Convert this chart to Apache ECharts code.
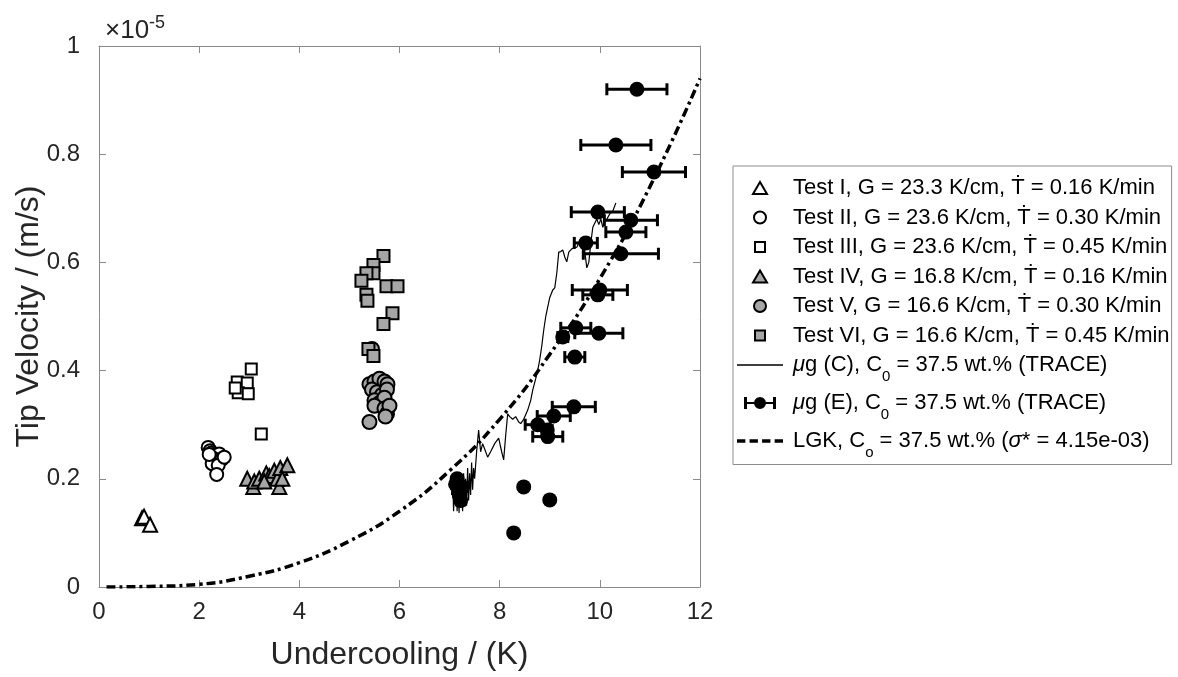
<!DOCTYPE html>
<html>
<head>
<meta charset="utf-8">
<script src="https://cdn.jsdelivr.net/npm/echarts@6/dist/echarts.min.js"></script>
<style>
  html, body { margin: 0; padding: 0; background: #fff; }
  #box { width: 1178px; height: 677px; }
</style>
</head>
<body>
<div id="box"></div>
<script>
// values are in units of 1e-5 m/s (the axis shows the x10^-5 factor)
var xTicks = [0, 2, 4, 6, 8, 10, 12];
var yTicks = [0, 0.2, 0.4, 0.6, 0.8, 1];

var test1 = [[0.86, 0.127], [0.9, 0.13], [1.02, 0.115]];
var test2 = [[2.18, 0.258], [2.22, 0.252], [2.25, 0.248], [2.3, 0.245], [2.35, 0.243], [2.4, 0.246],
    [2.28, 0.238], [2.33, 0.235], [2.45, 0.236], [2.26, 0.228], [2.38, 0.225], [2.35, 0.208],
    [2.5, 0.24], [2.2, 0.245]];
var test3 = [[3.04, 0.403], [2.76, 0.379], [2.96, 0.377], [2.78, 0.359], [2.98, 0.357], [2.72, 0.368],
    [3.24, 0.283]];
var test4 = [[2.96, 0.2], [3.08, 0.185], [3.1, 0.195], [3.2, 0.2], [3.34, 0.21], [3.4, 0.205],
    [3.5, 0.215], [3.56, 0.2], [3.6, 0.185], [3.62, 0.22], [3.76, 0.225], [3.66, 0.2], [3.3, 0.195]];
var test5 = [[5.4, 0.375], [5.5, 0.38], [5.6, 0.385], [5.7, 0.38], [5.76, 0.375], [5.45, 0.365],
    [5.55, 0.36], [5.65, 0.355], [5.75, 0.365], [5.5, 0.345], [5.6, 0.34], [5.7, 0.35], [5.5, 0.335],
    [5.7, 0.33], [5.75, 0.32], [5.8, 0.335], [5.4, 0.305], [5.72, 0.315], [5.45, 0.44]];
var test6 = [[5.68, 0.612], [5.48, 0.595], [5.48, 0.58], [5.34, 0.58], [5.24, 0.566], [5.74, 0.556],
    [5.96, 0.556], [5.34, 0.54], [5.36, 0.529], [5.86, 0.506], [5.68, 0.486], [5.38, 0.44], [5.48, 0.427]];

// μg (C) trace
var traceC = [[7.04, 0.17], [7.06, 0.2], [7.08, 0.14], [7.1, 0.19], [7.12, 0.15], [7.13, 0.21], [7.15, 0.14],
    [7.17, 0.18], [7.19, 0.137], [7.2, 0.2], [7.22, 0.15], [7.24, 0.19], [7.26, 0.14], [7.28, 0.21],
    [7.3, 0.155], [7.32, 0.2], [7.34, 0.15], [7.36, 0.22], [7.38, 0.16], [7.4, 0.21], [7.42, 0.17],
    [7.44, 0.23], [7.46, 0.18], [7.48, 0.22], [7.5, 0.2], [7.54, 0.25], [7.58, 0.29], [7.62, 0.25],
    [7.66, 0.265], [7.7, 0.255], [7.76, 0.24], [7.82, 0.25], [7.9, 0.265], [7.98, 0.275], [8.04, 0.25],
    [8.08, 0.235], [8.12, 0.28], [8.16, 0.32], [8.2, 0.315], [8.26, 0.31], [8.32, 0.315], [8.38, 0.305],
    [8.42, 0.302], [8.48, 0.31], [8.56, 0.327], [8.62, 0.345], [8.66, 0.364], [8.72, 0.385], [8.76, 0.401],
    [8.8, 0.42], [8.84, 0.445], [8.88, 0.475], [8.92, 0.5], [8.96, 0.518], [9.0, 0.535], [9.06, 0.549],
    [9.1, 0.553], [9.14, 0.58], [9.18, 0.619], [9.22, 0.62], [9.26, 0.623], [9.3, 0.61], [9.34, 0.601],
    [9.38, 0.619], [9.44, 0.625], [9.48, 0.627], [9.54, 0.628], [9.58, 0.636], [9.62, 0.63], [9.66, 0.64],
    [9.7, 0.62], [9.74, 0.59], [9.78, 0.6], [9.82, 0.636], [9.86, 0.665], [9.9, 0.673], [9.94, 0.68],
    [9.98, 0.67], [10.02, 0.68], [10.06, 0.665], [10.1, 0.675], [10.14, 0.68], [10.2, 0.69],
    [10.26, 0.695], [10.32, 0.71]];

// μg (E): [undercooling, velocity, half width of error bar]
var pointsE = [[10.74, 0.92, 0.6], [10.32, 0.817, 0.7], [11.08, 0.767, 0.63], [9.96, 0.693, 0.53],
    [10.62, 0.678, 0.53], [10.52, 0.656, 0.4], [9.72, 0.636, 0.23], [10.42, 0.616, 0.75],
    [10.0, 0.549, 0.55], [9.96, 0.54, 0.3], [9.52, 0.479, 0.3], [9.98, 0.469, 0.48], [9.26, 0.462, 0.1],
    [9.5, 0.425, 0.2], [9.48, 0.333, 0.43], [9.08, 0.316, 0.33], [8.76, 0.3, 0.25], [8.96, 0.278, 0.3],
    [8.95, 0.29, 0.1], [8.48, 0.185, 0], [9.0, 0.161, 0], [8.28, 0.1, 0],
    [7.12, 0.19, 0.08], [7.18, 0.175, 0.1], [7.22, 0.16, 0.08], [7.15, 0.2, 0.06], [7.25, 0.185, 0.1]];

// LGK model curve
var lgk = [[0.15, 0], [1, 0.001], [2, 0.005], [3, 0.02], [4, 0.045], [5, 0.085], [6, 0.14],
    [7, 0.215], [8, 0.31], [9, 0.43], [10, 0.57], [11, 0.74], [12, 0.94]];

var names = ['Test I, G = 23.3 K/cm, Ṫ = 0.16 K/min',
    'Test II, G = 23.6 K/cm, Ṫ = 0.30 K/min',
    'Test III, G = 23.6 K/cm, Ṫ = 0.45 K/min',
    'Test IV, G = 16.8 K/cm, Ṫ = 0.16 K/min',
    'Test V, G = 16.6 K/cm, Ṫ = 0.30 K/min',
    'Test VI, G = 16.6 K/cm, Ṫ = 0.45 K/min',
    'ug (C)', 'ug (E)', 'LGK'];
var richNames = {
    'ug (C)': '{it|μ}g (C), C{sub|0} = 37.5 wt.% (TRACE)',
    'ug (E)': '{it|μ}g (E), C{sub|0} = 37.5 wt.% (TRACE)',
    'LGK': 'LGK, C{sub|o} = 37.5 wt.% ({it|σ}* = 4.15e-03)'
};

var font = 'Liberation Sans, Arial, sans-serif';
var gray = '#a6a6a6';
var axisColor = '#8a8a8a';

// legend icons (the leading moves only widen the box the icon is fitted into)
var icoTri = 'path://M-1,-1M15,13M0,12L7,0L14,12Z';
var icoCirc = 'path://M-1,-1M13,13M0,6A6,6 0 1 1 12,6A6,6 0 1 1 0,6Z';
var icoRect = 'path://M-2,-2M12,12M0,0H10V10H0Z';
var icoLine = 'path://M0,0H46V1.3H0Z';
var icoDash = 'path://M0,0H8V3.5H0Z M12,0H20V3.5H12Z M24,0H32V3.5H24Z M36,0H44V3.5H36Z';
var icoErr = 'path://M0,-1M32,13M0,0H3V12H0Z M3,5H10.3V7H3Z M10,6A6,6 0 1 1 22,6A6,6 0 1 1 10,6Z M21.7,5H29V7H21.7Z M29,0H32V12H29Z';

var chart = echarts.init(document.getElementById('box'));

function scatter(name, data, symbol, fill, size) {
    return {
        name: name, type: 'scatter', data: data, symbol: symbol, symbolSize: size,
        itemStyle: { color: fill, borderColor: '#000', borderWidth: 2, opacity: 1 }
    };
}

function renderErr(params, api) {
    var x = api.value(0), y = api.value(1), e = api.value(2);
    var c = api.coord([x, y]);
    var kids = [];
    if (e > 0) {
        var l = api.coord([x - e, y]), r = api.coord([x + e, y]);
        var st = { stroke: '#000', lineWidth: 3 };
        kids.push({ type: 'line', shape: { x1: l[0], y1: c[1], x2: r[0], y2: c[1] }, style: st });
        kids.push({ type: 'line', shape: { x1: l[0], y1: c[1] - 6, x2: l[0], y2: c[1] + 6 }, style: st });
        kids.push({ type: 'line', shape: { x1: r[0], y1: c[1] - 6, x2: r[0], y2: c[1] + 6 }, style: st });
    }
    kids.push({ type: 'circle', shape: { cx: c[0], cy: c[1], r: 7.5 }, style: { fill: '#000' } });
    return { type: 'group', children: kids };
}

var option = {
    animation: false,
    backgroundColor: '#fff',
    title: {
        text: '{a|×10}{b|-5}',
        left: 100, top: 9,
        textStyle: {
            rich: {
                a: { fontFamily: font, fontSize: 26, fontWeight: 'normal', color: '#262626' },
                b: { fontFamily: font, fontSize: 18, fontWeight: 'normal', color: '#262626', padding: [0, 0, 15, 0] }
            }
        }
    },
    grid: { left: 99, right: 478, top: 46, bottom: 90, outerBoundsMode: 'none', containLabel: false },
    legend: {
        orient: 'vertical',
        left: 733, top: 166,
        padding: [11, 2, 4, 4],
        itemGap: 7.5,
        itemWidth: 46, itemHeight: 14,
        symbolKeepAspect: true,
        borderColor: '#8c8c8c', borderWidth: 1,
        backgroundColor: '#fff',
        selectedMode: false,
        data: [
            { name: names[0], icon: icoTri },
            { name: names[1], icon: icoCirc },
            { name: names[2], icon: icoRect },
            { name: names[3], icon: icoTri },
            { name: names[4], icon: icoCirc },
            { name: names[5], icon: icoRect },
            { name: names[6], icon: icoLine },
            { name: names[7], icon: icoErr },
            { name: names[8], icon: icoDash }
        ],
        formatter: function (n) { return richNames[n] || n; },
        textStyle: {
            fontFamily: font, fontSize: 22, color: '#000', padding: [0, 0, 0, 5],
            rich: {
                it: { fontFamily: font, fontSize: 22, fontStyle: 'italic', color: '#000' },
                sub: { fontFamily: font, fontSize: 15, color: '#000', padding: [24, 0, 0, 0] }
            }
        }
    },
    xAxis: [{
        type: 'value', min: 0, max: 12, interval: 2,
        name: 'Undercooling / (K)', nameLocation: 'middle', nameGap: 52,
        nameTextStyle: { fontFamily: font, fontSize: 32, color: '#262626' },
        axisLine: { onZero: false, lineStyle: { color: axisColor, width: 1 } },
        axisTick: { inside: true, length: 7, lineStyle: { color: axisColor } },
        axisLabel: { fontFamily: font, fontSize: 24, color: '#262626', margin: 13,
            formatter: function (v) { return xTicks.indexOf(v) >= 0 ? String(v) : ''; } },
        splitLine: { show: false }
    }, {
        type: 'value', min: 0, max: 12, interval: 2, position: 'top',
        axisLine: { onZero: false, lineStyle: { color: axisColor, width: 1 } },
        axisTick: { inside: true, length: 7, lineStyle: { color: axisColor } },
        axisLabel: { show: false }, splitLine: { show: false }
    }],
    yAxis: [{
        type: 'value', min: 0, max: 1, interval: 0.2,
        name: 'Tip Velocity / (m/s)', nameLocation: 'middle', nameGap: 54, nameMoveOverlap: false,
        nameTextStyle: { fontFamily: font, fontSize: 32, color: '#262626' },
        axisLine: { show: true, onZero: false, lineStyle: { color: axisColor, width: 1 } },
        axisTick: { show: true, inside: true, length: 7, lineStyle: { color: axisColor } },
        axisLabel: { fontFamily: font, fontSize: 24, color: '#262626', margin: 19,
            formatter: function (v) {
                for (var i = 0; i < yTicks.length; i++) {
                    if (Math.abs(yTicks[i] - v) < 1e-9) return String(yTicks[i]);
                }
                return '';
            } },
        splitLine: { show: false }
    }, {
        type: 'value', min: 0, max: 1, interval: 0.2, position: 'right',
        axisLine: { show: true, onZero: false, lineStyle: { color: axisColor, width: 1 } },
        axisTick: { show: true, inside: true, length: 7, lineStyle: { color: axisColor } },
        axisLabel: { show: false }, splitLine: { show: false }
    }],
    series: [
        scatter(names[0], test1, 'triangle', '#fff', 14),
        scatter(names[1], test2, 'circle', '#fff', 13),
        scatter(names[2], test3, 'rect', '#fff', 11),
        scatter(names[3], test4, 'triangle', gray, 14),
        scatter(names[4], test5, 'circle', gray, 14),
        scatter(names[5], test6, 'rect', gray, 12),
        {
            name: names[6], type: 'line', data: traceC, symbol: 'none',
            lineStyle: { color: '#000', width: 1.2 }, itemStyle: { color: '#000' }
        },
        {
            name: names[7], type: 'custom', data: pointsE, renderItem: renderErr,
            encode: { x: 0, y: 1 }, itemStyle: { color: '#000' }
        },
        {
            name: names[8], type: 'line', data: lgk, symbol: 'none', smooth: true,
            lineStyle: { color: '#000', width: 3.5, type: [9, 4, 3, 4] }, itemStyle: { color: '#000' }
        }
    ]
};
chart.setOption(option);
</script>
</body>
</html>
